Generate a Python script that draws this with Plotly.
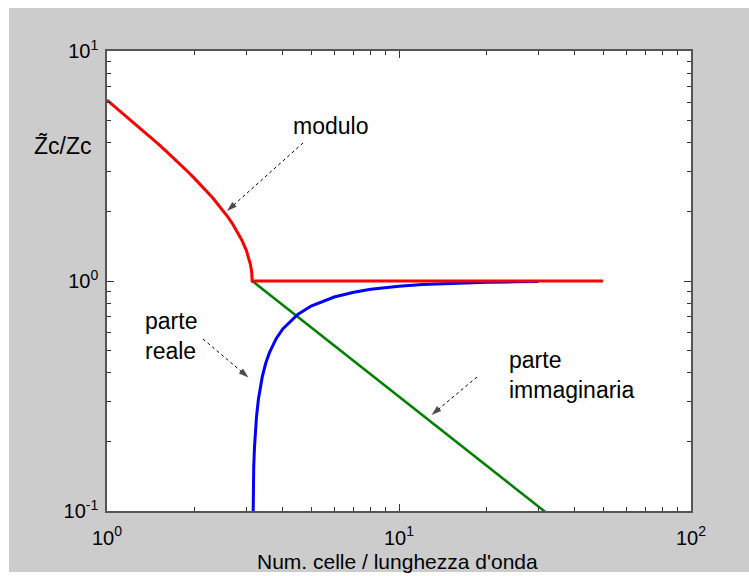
import plotly.graph_objects as go

# ---- data ----
mod_x = [1.0, 1.1, 1.2, 1.3, 1.4, 1.5, 1.6, 1.7, 1.8, 1.9, 2.0, 2.1, 2.2, 2.3, 2.4,
         2.5, 2.6, 2.7, 2.8, 2.9, 3.0, 3.05, 3.1, 3.13, 3.14, 3.1416, 50.0]
mod_y = [6.12, 5.53, 5.04, 4.62, 4.25, 3.94, 3.65, 3.40, 3.18, 2.97, 2.78, 2.61, 2.45, 2.30, 2.15,
         2.02, 1.89, 1.76, 1.63, 1.50, 1.36, 1.28, 1.18, 1.09, 1.03, 1.0, 1.0]

re_x = [3.145, 3.16, 3.18, 3.2, 3.25, 3.3, 3.4, 3.5, 3.6, 3.8, 4.0, 4.5, 5.0, 6.0, 7.0,
        8.0, 10.0, 12.0, 15.0, 20.0, 25.0, 30.0]
re_y = [0.047, 0.108, 0.155, 0.190, 0.256, 0.306, 0.382, 0.441, 0.488, 0.563, 0.619, 0.716,
        0.778, 0.852, 0.894, 0.920, 0.949, 0.965, 0.978, 0.988, 0.992, 0.9945]

im_x = [3.1416, 5.0, 10.0, 20.0, 31.4, 50.0]
im_y = [1.0, 0.628, 0.314, 0.157, 0.1, 0.0628]

x_tickvals = [1, 10, 100]
x_ticktext = ["10<sup>0</sup>", "10<sup>1</sup>", "10<sup>2</sup>"]
y_tickvals = [0.1, 1, 10]
y_ticktext = ["10<sup>-1</sup>", "10<sup>0</sup>", "10<sup>1</sup>"]
x_minor = [2, 3, 4, 5, 6, 7, 8, 9, 20, 30, 40, 50, 60, 70, 80, 90]
y_minor = [0.2, 0.3, 0.4, 0.5, 0.6, 0.7, 0.8, 0.9, 2, 3, 4, 5, 6, 7, 8, 9]

y_title = "Z\u0303c/Zc"
x_title = "Num. celle / lunghezza d'onda"

# ---- layout geometry (pixels) ----
W, H = 749, 576
L, R, T, B = 107, 58, 51, 65
PW, PH = W - L - R, H - T - B
X_RANGE = [0, 2]   # log10
Y_RANGE = [-1, 1]  # log10


def xp(px):
    return (px - L) / PW


def yp(py):
    return (H - B - py) / PH


def xdata(px):
    return 10 ** (X_RANGE[0] + (px - L) / PW * (X_RANGE[1] - X_RANGE[0]))


def ydata(py):
    return 10 ** (Y_RANGE[0] + (H - B - py) / PH * (Y_RANGE[1] - Y_RANGE[0]))


FONT = "Liberation Sans, Arial, sans-serif"
AX = "#555555"

fig = go.Figure()
fig.add_trace(go.Scatter(x=im_x, y=im_y, mode="lines",
                         line=dict(color="#008000", width=2.5), showlegend=False))
fig.add_trace(go.Scatter(x=re_x, y=re_y, mode="lines",
                         line=dict(color="#0000ff", width=3), showlegend=False))
fig.add_trace(go.Scatter(x=mod_x, y=mod_y, mode="lines",
                         line=dict(color="#ff0000", width=3), showlegend=False))

# dashed pointer arrows (start pixel -> tip pixel)
arrows = [
    ((303, 143), (227, 211)),
    ((203, 339), (248.5, 377.5)),
    ((477, 377), (431.5, 415)),
]
for (sx, sy), (tx, ty) in arrows:
    fig.add_trace(go.Scatter(
        x=[xdata(sx), xdata(tx)], y=[ydata(sy), ydata(ty)],
        mode="lines+markers", showlegend=False, hoverinfo="skip",
        line=dict(color="black", width=1, dash="3px,3px"),
        marker=dict(symbol="arrow", size=[0, 10.5], color="black",
                    angleref="previous", line=dict(width=0)),
        cliponaxis=False,
    ))

axis_common = dict(
    type="log", showgrid=False, zeroline=False, showline=True, linecolor=AX,
    linewidth=1.5, mirror="ticks", ticks="inside", ticklen=7, tickwidth=1,
    tickcolor="#333333", tickmode="array",
    tickfont=dict(family=FONT, size=20, color="black"),
)

fig.update_xaxes(range=X_RANGE, tickvals=x_tickvals, ticktext=x_ticktext,
                 ticklabelstandoff=8,
                 minor=dict(ticks="inside", ticklen=4, tickwidth=1, tickcolor="#333333",
                            tickmode="array", tickvals=x_minor),
                 **axis_common)
fig.update_yaxes(range=Y_RANGE, tickvals=y_tickvals, ticktext=y_ticktext,
                 ticklabelstandoff=3,
                 minor=dict(ticks="inside", ticklen=4, tickwidth=1, tickcolor="#333333",
                            tickmode="array", tickvals=y_minor),
                 **axis_common)

shapes = [
    # white border strips around the gray figure background
    dict(type="rect", xref="paper", yref="paper", x0=-0.3, x1=1.3, y0=yp(8), y1=1.3,
         fillcolor="white", line=dict(width=0), layer="below"),
    dict(type="rect", xref="paper", yref="paper", x0=-0.3, x1=xp(9), y0=-0.3, y1=1.3,
         fillcolor="white", line=dict(width=0), layer="below"),
    dict(type="rect", xref="paper", yref="paper", x0=-0.3, x1=1.3, y0=-0.3, y1=yp(572),
         fillcolor="white", line=dict(width=0), layer="below"),
]

txt = dict(family=FONT, size=23, color="black")
annotations = [
    dict(xref="paper", yref="paper", x=xp(330.5), y=yp(126), text="modulo",
         showarrow=False, xanchor="center", yanchor="middle", font=txt),
    dict(xref="paper", yref="paper", x=xp(143), y=yp(336), text="parte<br>reale",
         showarrow=False, xanchor="left", yanchor="middle", align="left", font=txt),
    dict(xref="paper", yref="paper", x=xp(507), y=yp(375), text="parte<br>immaginaria",
         showarrow=False, xanchor="left", yanchor="middle", align="left", font=txt),
    dict(xref="paper", yref="paper", x=xp(397), y=yp(561), text=x_title,
         showarrow=False, xanchor="center", yanchor="middle",
         font=dict(family=FONT, size=21, color="black")),
    dict(xref="paper", yref="paper", x=xp(63.5), y=yp(146), text=y_title,
         showarrow=False, xanchor="center", yanchor="middle", font=txt),
]

fig.update_layout(
    width=W, height=H, margin=dict(l=L, r=R, t=T, b=B, pad=0),
    paper_bgcolor="#cccccc", plot_bgcolor="white",
    shapes=shapes, annotations=annotations, showlegend=False,
)

fig.write_html("out.html")
